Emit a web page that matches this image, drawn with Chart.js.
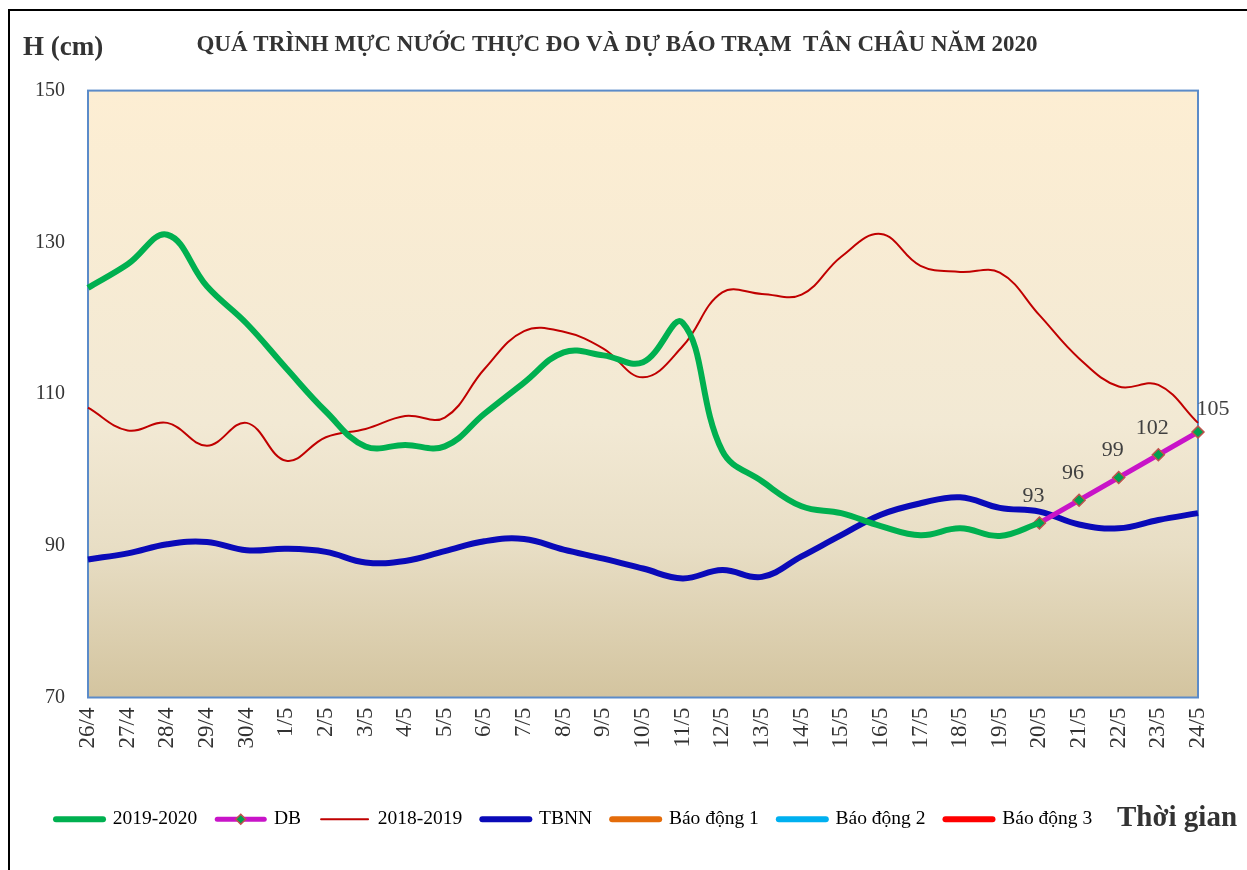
<!DOCTYPE html>
<html>
<head>
<meta charset="utf-8">
<script src="https://cdn.jsdelivr.net/npm/chart.js@4.4.1/dist/chart.umd.min.js"></script>
<style>
  html, body { margin: 0; padding: 0; background: #fff; }
  #wrap { width: 1247px; height: 870px; position: relative; }
</style>
</head>
<body>
<div id="wrap"><canvas id="chart" width="1247" height="870"></canvas></div>
<script>
// Categories (days)
const ngay = ['26/4', '27/4', '28/4', '29/4', '30/4', '1/5', '2/5', '3/5', '4/5', '5/5',
  '6/5', '7/5', '8/5', '9/5', '10/5', '11/5', '12/5', '13/5', '14/5', '15/5',
  '16/5', '17/5', '18/5', '19/5', '20/5', '21/5', '22/5', '23/5', '24/5'];

// Measured 2019-2020 (ends at 20/5)
const thucDo2020 = [124.0, 127.1, 131.0, 124.2, 119.3, 113.4, 107.7, 103.1, 103.3, 103.1,
  107.4, 111.5, 115.5, 115.1, 114.2, 119.4, 102.5, 98.5, 95.2, 94.3,
  92.6, 91.4, 92.3, 91.3, 93, null, null, null, null];

// Forecast (DB)
const duBao = [null, null, null, null, null, null, null, null, null, null,
  null, null, null, null, null, null, null, null, null, null,
  null, null, null, null, 93, 96, 99, 102, 105];

// 2018-2019
const nam2019 = [108.2, 105.2, 106.2, 103.2, 106.2, 101.2, 104.3, 105.4, 107.1, 106.9,
  113.3, 118.3, 118.2, 116.0, 112.2, 116.3, 123.4, 123.2, 123.1, 128.1,
  131.1, 126.9, 126.1, 126.0, 120.4, 114.7, 111.0, 111.2, 106.2];

// TBNN (long-term average)
const tbnn = [88.2, 89.0, 90.2, 90.5, 89.4, 89.6, 89.2, 87.8, 88.0, 89.3,
  90.6, 90.9, 89.5, 88.3, 87.0, 85.7, 86.8, 85.9, 88.6, 91.4,
  94.1, 95.6, 96.4, 95.0, 94.5, 92.8, 92.3, 93.4, 94.3];

// Alarm levels lie above the visible range, only shown in the legend
const baoDong1 = [];
const baoDong2 = [];
const baoDong3 = [];

const yTicks = [70, 90, 110, 130, 150];

const serif = 'Liberation Serif';

// background gradient, frame, axis captions
const decorPlugin = {
  id: 'decor',
  beforeDraw(chart) {
    const ctx = chart.ctx;
    const a = chart.chartArea;
    ctx.save();
    ctx.fillStyle = '#fff';
    ctx.fillRect(0, 0, chart.width, chart.height);
    // outer frame (top + left)
    ctx.strokeStyle = '#000';
    ctx.lineWidth = 2;
    ctx.beginPath();
    ctx.moveTo(9, chart.height);
    ctx.lineTo(9, 10);
    ctx.lineTo(chart.width, 10);
    ctx.stroke();
    // plot background
    const g = ctx.createLinearGradient(0, a.top, 0, a.bottom);
    g.addColorStop(0, '#fdeed3');
    g.addColorStop(0.55, '#f2e9d4');
    g.addColorStop(0.75, '#e8dec5');
    g.addColorStop(1, '#d3c49f');
    ctx.fillStyle = g;
    ctx.fillRect(a.left, a.top, a.right - a.left, a.bottom - a.top);
    ctx.strokeStyle = '#5b8bc9';
    ctx.lineWidth = 2;
    ctx.strokeRect(a.left, a.top, a.right - a.left, a.bottom - a.top);
    ctx.restore();
  },
  afterDraw(chart) {
    const ctx = chart.ctx;
    ctx.save();
    ctx.fillStyle = '#333';
    ctx.textBaseline = 'middle';
    ctx.font = 'bold 27px "' + serif + '"';
    ctx.textAlign = 'left';
    ctx.fillText('H (cm)', 23, 48);
    ctx.font = 'bold 29px "' + serif + '"';
    ctx.fillText('Thời gian', 1117, 819);

    // forecast value labels
    const meta = chart.getDatasetMeta(1);
    ctx.font = '22px "' + serif + '"';
    ctx.fillStyle = '#404040';
    ctx.textAlign = 'center';
    meta.data.forEach((pt, i) => {
      const v = duBao[i];
      if (v === null || v === undefined) return;
      let dx = -6;
      let dy = -27;
      if (pt.x > chart.chartArea.right - 5) { dx = 15; dy = -23; }
      ctx.fillText(String(v), pt.x + dx, pt.y + dy);
    });

    // diamond marker in the DB legend sample
    const lg = chart.legend;
    if (lg && lg.legendHitBoxes && lg.legendHitBoxes[1]) {
      const hb = lg.legendHitBoxes[1];
      const cx = hb.left + 47 / 2;
      const cy = hb.top + hb.height / 2;
      ctx.fillStyle = '#00a050';
      ctx.strokeStyle = '#c0504d';
      ctx.lineWidth = 1.5;
      ctx.beginPath();
      ctx.moveTo(cx, cy - 5);
      ctx.lineTo(cx + 5, cy);
      ctx.lineTo(cx, cy + 5);
      ctx.lineTo(cx - 5, cy);
      ctx.closePath();
      ctx.fill();
      ctx.stroke();
    }
    ctx.restore();
  }
};

new Chart(document.getElementById('chart'), {
  type: 'line',
  data: {
    labels: ngay,
    datasets: [
      { label: '2019-2020', data: thucDo2020, borderColor: '#00b050', backgroundColor: '#00b050',
        borderWidth: 6, pointRadius: 0, tension: 0.4, spanGaps: false },
      { label: 'DB', data: duBao, borderColor: '#c814c8', backgroundColor: '#00a050',
        borderWidth: 5, tension: 0, pointStyle: 'rectRot', pointRadius: 6,
        pointBackgroundColor: '#00a050', pointBorderColor: '#c0504d', pointBorderWidth: 1.5 },
      { label: '2018-2019', data: nam2019, borderColor: '#c00000', backgroundColor: '#c00000',
        borderWidth: 2, pointRadius: 0, tension: 0.4 },
      { label: 'TBNN', data: tbnn, borderColor: '#0a0ab8', backgroundColor: '#0a0ab8',
        borderWidth: 6, pointRadius: 0, tension: 0.4 },
      { label: 'Báo động 1', data: baoDong1, borderColor: '#e46c0a', borderWidth: 6, pointRadius: 0 },
      { label: 'Báo động 2', data: baoDong2, borderColor: '#00b0f0', borderWidth: 6, pointRadius: 0 },
      { label: 'Báo động 3', data: baoDong3, borderColor: '#ff0000', borderWidth: 6, pointRadius: 0 }
    ]
  },
  options: {
    responsive: false,
    animation: false,
    devicePixelRatio: 1,
    layout: { padding: { left: 36, right: 49, top: 10, bottom: 31 } },
    scales: {
      x: {
        offset: false,
        grid: { display: false, drawTicks: false },
        border: { display: false },
        ticks: {
          autoSkip: false, minRotation: 90, maxRotation: 90, padding: 10,
          color: '#333', font: { family: serif, size: 23 }
        },
        afterFit(scale) { scale.height = 92; }
      },
      y: {
        min: 70, max: 150,
        grid: { display: false, drawTicks: false },
        border: { display: false },
        afterBuildTicks(scale) { scale.ticks = yTicks.map(v => ({ value: v })); },
        ticks: { padding: 23, color: '#333', font: { family: serif, size: 20 } },
        afterFit(scale) { scale.width = 52; }
      }
    },
    plugins: {
      title: {
        display: true,
        text: 'QUÁ TRÌNH MỰC NƯỚC THỰC ĐO VÀ DỰ BÁO TRẠM  TÂN CHÂU NĂM 2020',
        color: '#333',
        font: { family: serif, size: 23, weight: 'bold' },
        padding: { top: 21, bottom: 32 }
      },
      legend: {
        position: 'bottom',
        align: 'start',
        labels: {
          usePointStyle: true,
          pointStyleWidth: 47,
          padding: 20,
          color: '#333',
          font: { family: serif, size: 19.5 },
          generateLabels(chart) {
            return chart.data.datasets.map((ds, i) => ({
              text: ds.label,
              fillStyle: ds.borderColor,
              strokeStyle: ds.borderColor,
              lineWidth: ds.borderWidth,
              lineCap: 'round',
              pointStyle: 'line',
              hidden: false,
              datasetIndex: i
            }));
          }
        }
      },
      tooltip: { enabled: false }
    }
  },
  plugins: [decorPlugin]
});
</script>
</body>
</html>
